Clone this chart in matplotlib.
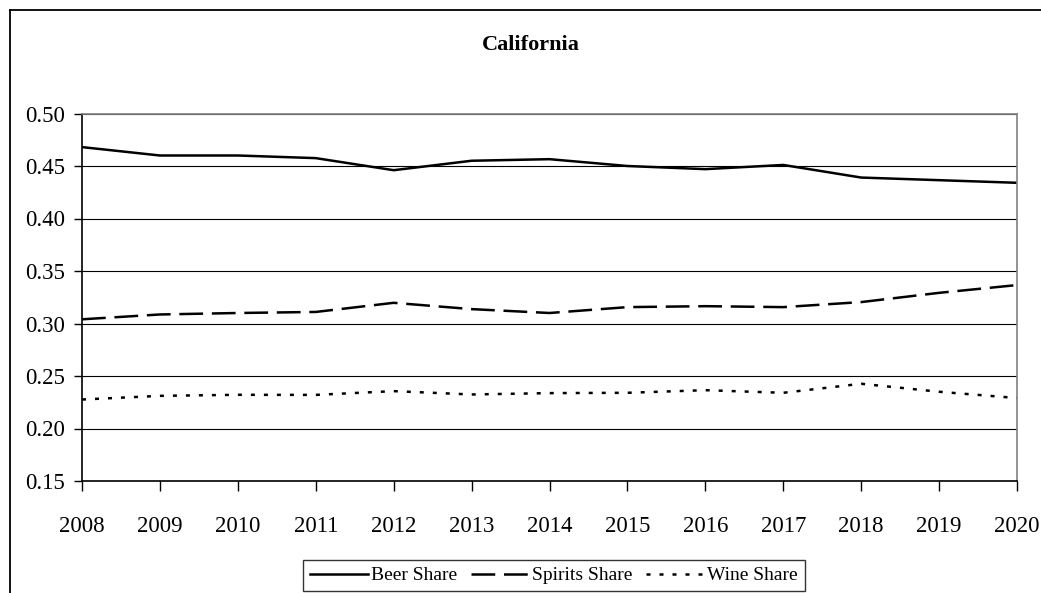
import matplotlib
matplotlib.use("Agg")
import matplotlib.pyplot as plt
from matplotlib.lines import Line2D

years = [2008, 2009, 2010, 2011, 2012, 2013, 2014, 2015, 2016, 2017, 2018, 2019, 2020]
beer_share = [0.468, 0.460, 0.460, 0.4575, 0.446, 0.455, 0.4565, 0.450, 0.447, 0.451, 0.439, 0.4365, 0.434]
spirits_share = [0.304, 0.3086, 0.310, 0.311, 0.3197, 0.3137, 0.310, 0.3156, 0.3165, 0.3156, 0.3204, 0.3292, 0.3366]
wine_share = [0.2276, 0.2311, 0.2321, 0.232, 0.2356, 0.2324, 0.2337, 0.234, 0.2365, 0.234, 0.2426, 0.235, 0.229]
y_ticks = [0.15, 0.20, 0.25, 0.30, 0.35, 0.40, 0.45, 0.50]

plt.rcParams['font.family'] = ['Liberation Serif', 'DejaVu Serif']

W, H = 1041, 593
fig = plt.figure(figsize=(W / 100, H / 100), dpi=100)
ax = fig.add_axes([82 / W, 1 - 481 / H, (1017 - 82) / W, (481 - 113.5) / H])

ax.plot(years, beer_share, color='black', lw=1.8, label='Beer Share')
ax.plot(years, spirits_share, color='black', lw=1.8, dashes=(9.5, 3.5), label='Spirits Share')
ax.plot(years, wine_share, color='black', lw=1.8, dashes=(1.6, 3.6), label='Wine Share')

ax.set_xlim(years[0], years[-1])
ax.set_ylim(y_ticks[0], y_ticks[-1])
ax.set_xticks(years)
ax.set_xticklabels([str(y) for y in years])
ax.set_yticks(y_ticks)
ax.set_yticklabels([f"{v:.2f}" for v in y_ticks])
ax.tick_params(axis='both', direction='out', labelsize=16.5, colors='black', width=1)
ax.tick_params(axis='y', length=6, pad=6)
ax.tick_params(axis='x', length=7, pad=18)
ax.yaxis.grid(True, color='black', lw=0.8)
ax.set_axisbelow(True)
for s in ['left', 'bottom']:
    ax.spines[s].set_color('black')
    ax.spines[s].set_linewidth(1.2)
for s in ['top', 'right']:
    ax.spines[s].set_color('#808080')
    ax.spines[s].set_linewidth(1.2)

fig.text(531 / W, 1 - 45 / H, 'California', ha='center', va='center',
         fontsize=16, fontweight='bold')

leg = fig.legend(loc='center', bbox_to_anchor=(554 / W, 1 - 575.5 / H), ncol=3,
                 fontsize=14, frameon=True, fancybox=False, shadow=False,
                 handlelength=3.0, handletextpad=0.15, columnspacing=0.7,
                 borderpad=0.35, borderaxespad=0)
leg.get_frame().set_edgecolor('black')
leg.get_frame().set_linewidth(1.0)

# outer chart frame
fig.add_artist(Line2D([9.5 / W, 9.5 / W], [0, 1 - 10 / H], transform=fig.transFigure,
                      color='black', lw=1.3))
fig.add_artist(Line2D([9.5 / W, 1], [1 - 10 / H, 1 - 10 / H], transform=fig.transFigure,
                      color='black', lw=1.3))

fig.savefig('out.png', dpi=100)
